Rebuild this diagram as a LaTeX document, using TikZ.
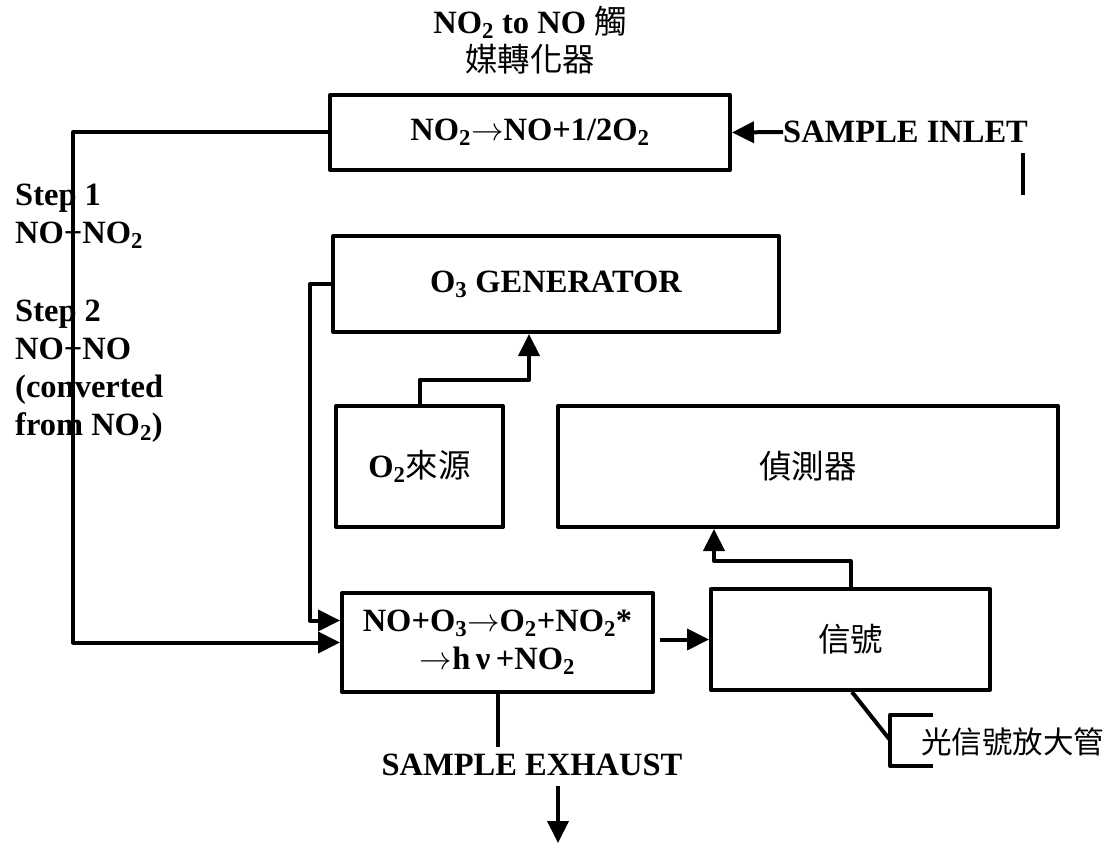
\RequirePackage{fix-cm}
\documentclass[tikz,border=0pt]{standalone}
\usepackage{fontspec}
\setmainfont{Liberation Serif}
\newfontfamily\cjk{Noto Sans CJK TC}
\usetikzlibrary{arrows.meta}
\newcommand{\zh}[1]{{\cjk\mdseries #1}}
\newcommand{\chemsub}[1]{\textsubscript{#1}}
\newcommand{\yields}{$\rightarrow$}
\tikzset{
  txt/.style={font=\bfseries\fontsize{32.5}{38}\selectfont, inner sep=0pt, align=center},
  box/.style={txt, draw, line width=4pt, line join=round},
  pipe/.style={line width=4pt, line join=round},
  flow/.style={pipe, -{Triangle[length=22pt,width=21pt]}},
}
\begin{document}
\begin{tikzpicture}[x=1pt,y=-1pt]
    \useasboundingbox (0,0) rectangle (1118,845);

    % boxes
    \node[box, minimum width=400pt, minimum height=75pt] (conv) at (530,132.5)
        {NO\chemsub{2}\yields NO+1/2O\chemsub{2}};
    \node[box, minimum width=446pt, minimum height=96pt] (o3gen) at (556,284)
        {O\chemsub{3} GENERATOR};
    \node[box, minimum width=167pt, minimum height=121pt] (o2src) at (419.5,466.5)
        {O\chemsub{2}\zh{來源}};
    \node[box, minimum width=500pt, minimum height=121pt] (det) at (808,466.5)
        {\zh{偵測器}};
    \node[box, minimum width=311pt, minimum height=99pt] (react) at (497.5,642.5)
        {NO+O\chemsub{3}\yields O\chemsub{2}+NO\chemsub{2}*\\\yields h\,ν\,+NO\chemsub{2}};
    \node[box, minimum width=279pt, minimum height=101pt] (sig) at (850.5,639.5)
        {\zh{信號}};

    % labels
    \node[txt] (title) at (530,40) {NO\chemsub{2} to NO \zh{觸}\\\zh{媒轉化器}};
    \node[txt, anchor=west] (inlet) at (783,132) {SAMPLE INLET};
    \node[txt, anchor=west, align=left] (step1) at (15,216) {Step 1\\NO+NO\chemsub{2}};
    \node[txt, anchor=west, align=left] (step2) at (15,371)
        {Step 2\\NO+NO\\(converted\\from NO\chemsub{2})};
    \node[txt] (exhaust) at (532,765) {SAMPLE EXHAUST};
    \node[txt, anchor=west, font=\fontsize{30.5}{34}\selectfont] (pmt) at (921,742)
        {\zh{光信號放大管}};

    \coordinate (out) at (558,843);
    \coordinate (kink) at (890,740);

    % connectors
    \draw[flow] (inlet.west) -- (conv.east);
    \draw[pipe] (1023,153) -- (1023,195);
    \draw[flow] (conv.west) -- (73,132.5) |- (react.west);
    \draw[flow] (o3gen.west) -- (310,284) |- ([yshift=22pt]react.west);
    \draw[flow] (o2src.north) -- ++(0,-24) -| ([xshift=-27pt]o3gen.south);
    \draw[flow] ([xshift=5pt]react.east |- sig.west) -- (sig.west);
    \draw[flow] (sig.north) -- ++(0,-26) -| ([xshift=-94pt]det.south);
    \draw[pipe] (react.south) -- ++(0,53);
    \draw[flow] ([xshift=26pt,yshift=-10pt]exhaust.south) -- (out);
    \draw[pipe] ([xshift=1.5pt]sig.south) -- (kink);
    \draw[pipe] (933,715) -- (890,715) -- (890,766) -- (933,766);
\end{tikzpicture}
\end{document}
